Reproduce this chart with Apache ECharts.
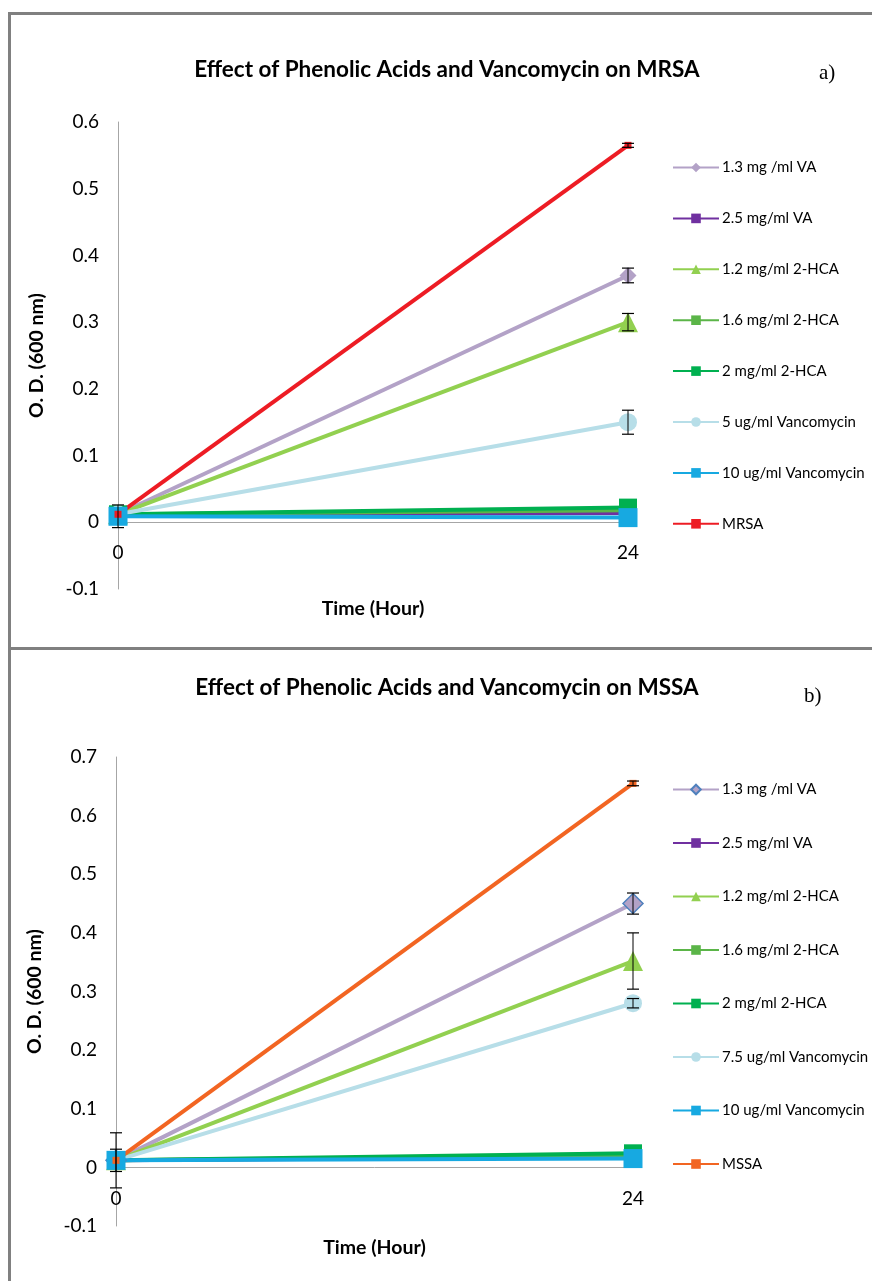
<!DOCTYPE html>
<html>
<head>
<meta charset="utf-8">
<script src="https://cdn.jsdelivr.net/npm/echarts@6/dist/echarts.min.js"></script>
<style>
  html, body { margin: 0; padding: 0; background: #fff; overflow: hidden; }
  #c1 { position: absolute; left: 0; top: 0; width: 872px; height: 648px; }
  #c2 { position: absolute; left: 0; top: 648px; width: 872px; height: 633px; }
  .frame { position: absolute; border: 3px solid #808080; box-sizing: border-box; pointer-events: none; }
</style>
</head>
<body>
<div id="c1"></div>
<div id="c2"></div>
<div class="frame" style="left:8px; top:12px; width:900px; height:638px;"></div>
<div class="frame" style="left:8px; top:647px; width:900px; height:700px;"></div>
<script>
// ---------- shared ----------
const hours = ['0', '24'];

// ---------- panel a) MRSA ----------
const mrsaTitle = 'Effect of Phenolic Acids and Vancomycin on MRSA';
const mrsaNames = ['1.3 mg /ml VA', '2.5 mg/ml VA', '1.2 mg/ml 2-HCA', '1.6 mg/ml 2-HCA',
                   '2 mg/ml 2-HCA', '5 ug/ml Vancomycin', '10 ug/ml Vancomycin', 'MRSA'];
const mrsaVA13   = [0.012, 0.370];
const mrsaVA25   = [0.012, 0.014];
const mrsaHCA12  = [0.012, 0.300];
const mrsaHCA16  = [0.012, 0.018];
const mrsaHCA2   = [0.012, 0.022];
const mrsaVan5   = [0.012, 0.150];
const mrsaVan10  = [0.009, 0.007];
const mrsaCtrl   = [0.012, 0.565];
// error (+/-) per point
const mrsaVA13Err  = [0, 0.011];
const mrsaHCA12Err = [0, 0.013];
const mrsaVan5Err  = [0, 0.018];
const mrsaVan10Err = [0.017, 0];
const mrsaCtrlErr  = [0, 0.003];

// ---------- panel b) MSSA ----------
const mssaTitle = 'Effect of Phenolic Acids and Vancomycin on MSSA';
const mssaNames = ['1.3 mg /ml VA', '2.5 mg/ml VA', '1.2 mg/ml 2-HCA', '1.6 mg/ml 2-HCA',
                   '2 mg/ml 2-HCA', '7.5 ug/ml Vancomycin', '10 ug/ml Vancomycin', 'MSSA'];
const mssaVA13   = [0.012, 0.450];
const mssaVA25   = [0.012, 0.018];
const mssaHCA12  = [0.012, 0.352];
const mssaHCA16  = [0.012, 0.020];
const mssaHCA2   = [0.012, 0.024];
const mssaVan7   = [0.012, 0.280];
const mssaVan10  = [0.012, 0.015];
const mssaCtrl   = [0.012, 0.655];
const mssaVA13Err  = [0, 0.018];
const mssaVA25Err  = [0.019, 0];
const mssaHCA12Err = [0, 0.048];
const mssaVan7Err  = [0, 0.008];
const mssaVan10Err = [0.047, 0];
const mssaCtrlErr  = [0, 0.004];

const FONT = "Lato, 'Open Sans', sans-serif";
const colors = {
  va13: '#B3A2C7', va25: '#7030A0', hca12: '#92D050', hca16: '#5BB548',
  hca2: '#00B050', van5: '#B7DEE8', van10: '#17A9E1', mrsa: '#ED1C24', mssa: '#F26522'
};

function lineSeries(name, data, color, symbol, size, extraItem) {
  return {
    type: 'line', name: name, data: data,
    symbol: symbol, symbolSize: size, showAllSymbol: true,
    lineStyle: { color: color, width: 4 },
    itemStyle: Object.assign({ color: color }, extraItem || {}),
    emphasis: { disabled: true },
    animation: false, z: 2
  };
}

function errSeries(vals, errs) {
  const data = [];
  for (let i = 0; i < vals.length; i++) {
    if (errs[i] > 0) data.push([i, vals[i] - errs[i], vals[i] + errs[i]]);
  }
  return {
    type: 'custom', silent: true, animation: false, z: 3,
    renderItem: function (params, api) {
      const x = api.value(0);
      const lo = api.coord([x, api.value(1)]);
      const hi = api.coord([x, api.value(2)]);
      const w = 6;
      return {
        type: 'group',
        children: [
          { type: 'line', shape: { x1: lo[0], y1: lo[1], x2: hi[0], y2: hi[1] }, style: { stroke: '#000', lineWidth: 1 } },
          { type: 'line', shape: { x1: lo[0] - w, y1: lo[1], x2: lo[0] + w, y2: lo[1] }, style: { stroke: '#000', lineWidth: 1.2 } },
          { type: 'line', shape: { x1: hi[0] - w, y1: hi[1], x2: hi[0] + w, y2: hi[1] }, style: { stroke: '#000', lineWidth: 1.2 } }
        ]
      };
    },
    encode: { x: 0, y: [1, 2] },
    data: data
  };
}

function baseOption(cfg) {
  return {
    animation: false,
    title: [
      { text: cfg.title, left: cfg.titleX, top: cfg.titleY, textAlign: 'center', padding: 0,
        textStyle: { fontFamily: FONT, fontWeight: 'bold', fontSize: 22.5, color: '#000' } },
      { text: cfg.tag, left: cfg.tagX, top: cfg.tagY, padding: 0,
        textStyle: { fontFamily: "'Liberation Serif', serif", fontWeight: 'normal', fontSize: 21, color: '#000' } }
    ],
    legend: {
      orient: 'vertical', left: 672, top: cfg.legendTop, padding: 0,
      itemWidth: 46, itemHeight: 12, itemGap: cfg.legendGap,
      textStyle: { fontFamily: FONT, fontSize: 15, lineHeight: 14, color: '#000', padding: [0, 0, 0, -2] },
      data: cfg.names, selectedMode: false
    },
    grid: { left: cfg.gridLeft, top: cfg.gridTop, width: cfg.gridWidth, height: cfg.gridHeight,
            containLabel: false, outerBoundsMode: 'none' },
    xAxis: {
      type: 'category', data: hours, boundaryGap: false,
      name: 'Time (Hour)', nameLocation: 'middle', nameGap: cfg.xNameGap, nameMoveOverlap: false,
      nameTextStyle: { fontFamily: FONT, fontWeight: 'bold', fontSize: 19.5, color: '#000' },
      axisLine: { onZero: true, lineStyle: { color: '#A6A6A6', width: 1 } },
      axisTick: { show: false },
      axisLabel: { margin: cfg.xLabelMargin, fontFamily: FONT, fontSize: 19, color: '#000' },
      splitLine: { show: false }
    },
    yAxis: {
      type: 'value', min: -0.1, max: cfg.yMax, interval: 0.1,
      name: 'O. D. (600 nm)', nameLocation: 'middle', nameGap: 71, nameMoveOverlap: false,
      nameTextStyle: { fontFamily: FONT, fontWeight: 'bold', fontSize: 19.5, color: '#000' },
      axisLine: { show: true, lineStyle: { color: '#A6A6A6', width: 1 } },
      axisTick: { show: false },
      axisLabel: { margin: 19, fontFamily: FONT, fontSize: 19, color: '#000' },
      splitLine: { show: false }
    },
    series: cfg.series
  };
}

const c1 = echarts.init(document.getElementById('c1'));
c1.setOption(baseOption({
  title: mrsaTitle, titleX: 447, titleY: 58, tag: 'a)', tagX: 819, tagY: 63,
  names: mrsaNames, legendTop: 160, legendGap: 35.9,
  gridLeft: 118, gridTop: 122, gridWidth: 510, gridHeight: 467,
  xNameGap: 10, xLabelMargin: -46, yMax: 0.6,
  series: [
    lineSeries(mrsaNames[0], mrsaVA13, colors.va13, 'diamond', 17),
    lineSeries(mrsaNames[1], mrsaVA25, colors.va25, 'rect', 12),
    lineSeries(mrsaNames[2], mrsaHCA12, colors.hca12, 'triangle', 20),
    lineSeries(mrsaNames[3], mrsaHCA16, colors.hca16, 'rect', 14),
    lineSeries(mrsaNames[4], mrsaHCA2, colors.hca2, 'rect', 18),
    lineSeries(mrsaNames[5], mrsaVan5, colors.van5, 'circle', 18),
    lineSeries(mrsaNames[6], mrsaVan10, colors.van10, 'rect', 19),
    lineSeries(mrsaNames[7], mrsaCtrl, colors.mrsa, 'rect', 7),
    errSeries(mrsaVA13, mrsaVA13Err),
    errSeries(mrsaHCA12, mrsaHCA12Err),
    errSeries(mrsaVan5, mrsaVan5Err),
    errSeries(mrsaVan10, mrsaVan10Err),
    errSeries(mrsaCtrl, mrsaCtrlErr)
  ]
}));

const c2 = echarts.init(document.getElementById('c2'));
c2.setOption(baseOption({
  title: mssaTitle, titleX: 447, titleY: 28, tag: 'b)', tagX: 804, tagY: 38,
  names: mssaNames, legendTop: 134, legendGap: 38.5,
  gridLeft: 116, gridTop: 109, gridWidth: 517, gridHeight: 469,
  xNameGap: 12, xLabelMargin: -37, yMax: 0.7,
  series: [
    lineSeries(mssaNames[0], mssaVA13, colors.va13, 'diamond', 20, { borderColor: '#4F81BD', borderWidth: 1.5 }),
    lineSeries(mssaNames[1], mssaVA25, colors.va25, 'rect', 12),
    lineSeries(mssaNames[2], mssaHCA12, colors.hca12, 'triangle', 20),
    lineSeries(mssaNames[3], mssaHCA16, colors.hca16, 'rect', 14),
    lineSeries(mssaNames[4], mssaHCA2, colors.hca2, 'rect', 18),
    lineSeries(mssaNames[5], mssaVan7, colors.van5, 'circle', 18),
    lineSeries(mssaNames[6], mssaVan10, colors.van10, 'rect', 19),
    lineSeries(mssaNames[7], mssaCtrl, colors.mssa, 'rect', 7),
    errSeries(mssaVA13, mssaVA13Err),
    errSeries(mssaVA25, mssaVA25Err),
    errSeries(mssaHCA12, mssaHCA12Err),
    errSeries(mssaVan7, mssaVan7Err),
    errSeries(mssaVan10, mssaVan10Err),
    errSeries(mssaCtrl, mssaCtrlErr)
  ]
}));
</script>
</body>
</html>
